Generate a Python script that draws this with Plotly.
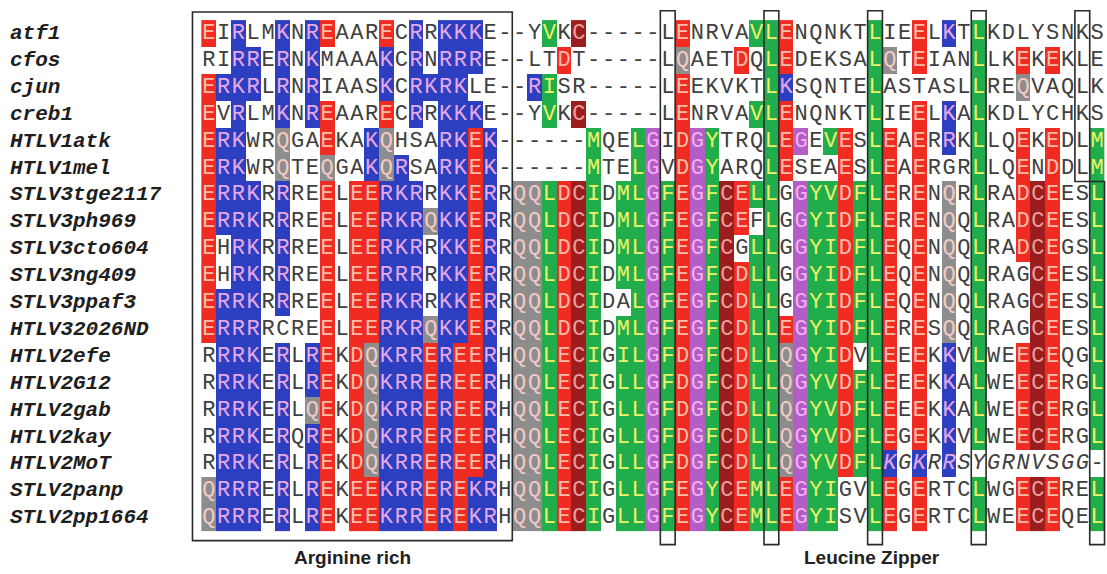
import plotly.graph_objects as go

names = ["atf1", "cfos", "cjun", "creb1", "HTLV1atk", "HTLV1mel", "STLV3tge2117",
         "STLV3ph969", "STLV3cto604", "STLV3ng409", "STLV3ppaf3", "HTLV32026ND",
         "HTLV2efe", "HTLV2G12", "HTLV2gab", "HTLV2kay", "HTLV2MoT", "STLV2panp",
         "STLV2pp1664"]

seqs = [
    "EIRLMKNREAARECRRKKKE--YVKC-----LENRVAVLENQNKTLIEELKTLKDLYSNKS",
    "RIRRERNKMAAAKCRNRRRE--LTDT-----LQAETDQLEDEKSALQTEIANLLKEKEKLE",
    "ERKRLRNRIAASKCRKRKLE--RISR-----LEEKVKTLKSQNTELASTASLLREQVAQLK",
    "EVRLMKNREAARECRRKKKE--YVKC-----LENRVAVLENQNKTLIEELKALKDLYCHKS",
    "ERKWRQGAEKAKQHSARKEK------MQELGIDGYTRQLEGEVESLEAERRKLLQEKEDLM",
    "ERKWRQTEQGAKQRSARKEK------MTELGVDGYARQLESEAESLEAERGRLLQENDDLM",
    "ERRKRRREELEERKRRKKERRQQLDCIDMLGFEGFCELLGGYVDFLERENQRLRADCEESL",
    "ERRKRRREELEERKRQKKERRQQLDCIDMLGFEGFCEFLGGYIDFLERENQQLRADCEESL",
    "EHRKRRREELEERKRRKKERRQQLDCIDMLGFEGFCGLLGGYIDFLEQENQQLRADCEGSL",
    "EHRKRRREELEERRRRKKERRQQLDCIDMLGFEGFCDLLGGYIDFLEQENQQLRAGCEESL",
    "ERRKRRREELEERKRRKKERRQQLDCIDALGFEGFCDLLGGYIDFLEQENQQLRAGCEESL",
    "ERRRRCREELEERKRQKKERRQQLDCIDMLGFEGFCDLLEGYIDFLERESQQLRAGCEESL",
    "RRRKERLREKDQKRREREERHQQLECIGILGFDGFCDLLQGYIDVLEEEKKVLWEECEQGL",
    "RRRKERLREKDQKRREREERHQQLECIGLLGFDGFCDLLQGYVDFLEEEKKALWEECERGL",
    "RRRKERLQEKDQKRREREERHQQLECIGLLGFDGFCDLLQGYVDFLEEEKKALWEECERGL",
    "RRRKERQREKDQKRREREERHQQLECIGLLGFDGFCDLLQGYVDFLEGEKKVLWEECERGL",
    "RRRKERLREKDQKRREREERHQQLECIGLLGFDGFCDLLQGYVDFLKGKRRSYGRNVSGG-",
    "QRRRERLREKEEKRREREKRHQQLECIGLLGFEGYCEMLEGYIGVLEGERTCLWGECEREL",
    "QRRRERLREKEEKRREREKRHQQLECIGLLGFEGYCEMLEGYISVLEGERTCLWEECEQEL",
]

# columns (0-based) whose residue is shaded, per sequence
hl_stlv3 = [21, 22, 23, 24, 25, 26, 28, 29, 30, 31, 32, 33, 34, 35]
hl_htlv2 = [1, 2, 3, 5, 7, 8, 10, 11, 12, 13, 14, 15, 16, 17, 18, 19, 21, 22, 23, 24, 25, 26,
            28, 29, 30, 31, 32, 33, 34, 35, 36, 37, 38, 39, 40, 41, 42, 43, 44, 45, 46, 48, 50,
            52, 55, 56, 57, 60]
highlight = [
    [0, 2, 5, 7, 8, 12, 14, 16, 17, 18, 23, 25, 32, 37, 38, 39, 45, 48, 50, 52],
    [2, 3, 5, 7, 12, 14, 16, 17, 18, 24, 32, 36, 38, 39, 45, 46, 48, 52, 55, 57],
    [0, 1, 2, 3, 5, 7, 12, 14, 15, 16, 17, 22, 23, 32, 38, 39, 45, 52, 55],
    [0, 2, 5, 7, 8, 12, 14, 16, 17, 18, 23, 25, 32, 37, 38, 39, 45, 48, 50, 52],
    [0, 1, 2, 5, 8, 11, 12, 16, 17, 18, 19, 26, 29, 30, 32, 33, 34, 38, 39, 40, 42, 43, 45,
     46, 48, 50, 52, 55, 57, 60],
    [0, 1, 2, 5, 8, 11, 12, 13, 16, 17, 18, 19, 26, 29, 30, 32, 33, 34, 38, 39, 43, 45, 46,
     48, 52, 55, 57, 60],
    [0, 1, 2, 3, 5, 8, 10, 11, 12, 13, 14, 16, 17, 18, 19] + hl_stlv3 +
    [36, 37, 38, 40, 41, 42, 43, 44, 45, 46, 48, 50, 52, 55, 56, 57, 60],
    [0, 1, 2, 3, 5, 8, 10, 11, 12, 13, 14, 15, 16, 17, 18, 19] + hl_stlv3 +
    [36, 38, 40, 41, 42, 43, 44, 45, 46, 48, 50, 52, 55, 56, 57, 60],
    [0, 2, 3, 5, 8, 10, 11, 12, 13, 14, 16, 17, 18, 19] + hl_stlv3 +
    [37, 38, 40, 41, 42, 43, 44, 45, 46, 48, 50, 52, 55, 56, 57, 60],
    [0, 2, 3, 5, 8, 10, 11, 12, 13, 14, 16, 17, 18, 19] + hl_stlv3 +
    [36, 37, 38, 40, 41, 42, 43, 44, 45, 46, 48, 50, 52, 56, 57, 60],
    [0, 1, 2, 3, 5, 8, 10, 11, 12, 13, 14, 16, 17, 18, 19, 21, 22, 23, 24, 25, 26, 29, 30,
     31, 32, 33, 34, 35, 36, 37, 38, 40, 41, 42, 43, 44, 45, 46, 48, 50, 52, 56, 57, 60],
    [0, 1, 2, 3, 8, 10, 11, 12, 13, 14, 15, 16, 17, 18, 19] + hl_stlv3 +
    [36, 37, 38, 39, 40, 41, 42, 43, 44, 45, 46, 48, 50, 52, 56, 57, 60],
    [c for c in hl_htlv2 if c != 44],
    hl_htlv2,
    hl_htlv2,
    hl_htlv2,
    [c for c in hl_htlv2 if c <= 50],
    [0, 1, 2, 3, 5, 7, 8, 10, 11, 12, 13, 14, 15, 16, 17, 18, 19, 21, 22, 23, 24, 25, 26,
     28, 29, 30, 31, 32, 33, 34, 35, 36, 37, 38, 39, 40, 41, 42, 45, 46, 48, 52, 55, 56, 57, 60],
    [0, 1, 2, 3, 5, 7, 8, 10, 11, 12, 13, 14, 15, 16, 17, 18, 19, 21, 22, 23, 24, 25, 26,
     28, 29, 30, 31, 32, 33, 34, 35, 36, 37, 38, 39, 40, 41, 42, 45, 46, 48, 52, 55, 56, 57, 60],
]
italic_row = 16
italic_from = 46

zipper_cols = [31, 38, 45, 52]
region_labels = ["Arginine rich", "Leucine Zipper"]

# residue class -> shading
group_of = {}
for ch in "KR":
    group_of[ch] = 1
for ch in "ED":
    group_of[ch] = 2
for ch in "LIVMFYAW":
    group_of[ch] = 3
group_of["Q"] = 4
group_of["G"] = 5
group_of["C"] = 6

fills = ["#ffffff", "#2c3fc0", "#ef2b22", "#21ad4b", "#8d8d8d", "#b25ec6", "#9c1d1d"]
txtcols = ["#404040", "#e6a8e6", "#fbbcaa", "#eef26a", "#f3cbc4", "#f4b0f0", "#eaa0a0"]

nrow = len(seqs)
ncol = len(seqs[0])
for s in seqs:
    assert len(s) == ncol, s

z = []
for r in range(nrow):
    row = []
    hs = set(highlight[r])
    for c in range(ncol):
        ch = seqs[r][c]
        row.append(group_of.get(ch, 0) if c in hs else 0)
    z.append(row)

cs = []
for k, col in enumerate(fills):
    cs.append([k / len(fills), col])
    cs.append([(k + 1) / len(fills), col])

fig = go.Figure()
fig.add_trace(go.Heatmap(
    z=z, x=list(range(ncol)), y=list(range(nrow)),
    colorscale=cs, zmin=-0.5, zmax=len(fills) - 0.5,
    showscale=False, hoverinfo="skip"))

xs, ys, ts, tc = [], [], [], []
xi, yi, ti, tci = [], [], [], []
for r in range(nrow):
    for c in range(ncol):
        ch = seqs[r][c]
        col = txtcols[z[r][c]]
        if r == italic_row and c >= italic_from:
            xi.append(c); yi.append(r); ti.append(ch); tci.append(col)
        else:
            xs.append(c); ys.append(r); ts.append(ch); tc.append(col)

seq_font = "Liberation Mono, Courier New, monospace"
fig.add_trace(go.Scatter(
    x=xs, y=ys, text=ts, mode="text", textposition="middle center",
    textfont=dict(family=seq_font, size=22, color=tc),
    hoverinfo="skip", showlegend=False))
fig.add_trace(go.Scatter(
    x=xi, y=yi, text=ti, mode="text", textposition="middle center",
    textfont=dict(family=seq_font, size=22, color=tci, style="italic"),
    hoverinfo="skip", showlegend=False))

line = dict(color="#2a2a2a", width=1.6)
shapes = [dict(type="rect", xref="x", yref="y", x0=-1.1, x1=20.5, y0=-0.8, y1=18.85,
               line=line, fillcolor="rgba(0,0,0,0)")]
for c in zipper_cols:
    shapes.append(dict(type="rect", xref="x", yref="y", x0=c - 0.5, x1=c + 0.5,
                       y0=-0.85, y1=19.0, line=line, fillcolor="rgba(0,0,0,0)"))
shapes.append(dict(type="rect", xref="x", yref="y", x0=58.5, x1=59.5, y0=-0.85, y1=5.5,
                   line=line, fillcolor="rgba(0,0,0,0)"))
shapes.append(dict(type="rect", xref="x", yref="y", x0=59.5, x1=60.5, y0=5.5, y1=19.0,
                   line=line, fillcolor="rgba(0,0,0,0)"))

annotations = []
for r, nm in enumerate(names):
    annotations.append(dict(
        text=nm, xref="paper", x=-0.2, xanchor="left", yref="y", y=r, yanchor="middle",
        showarrow=False,
        font=dict(family=seq_font, size=21, color="#1e1e1e", weight="bold", style="italic")))
for lbl, xc in zip(region_labels, [9.7, 44.8]):
    annotations.append(dict(text=lbl, xref="x", x=xc, yref="paper", y=-0.021,
                            yanchor="middle", showarrow=False,
                            font=dict(family="Liberation Sans, Arial, sans-serif", size=19,
                                      color="#222222", weight="bold")))

fig.update_layout(
    width=1107, height=574,
    margin=dict(l=191, r=1, t=8, b=28),
    paper_bgcolor="white", plot_bgcolor="white",
    xaxis=dict(range=[-1.2, 60.6], visible=False, fixedrange=True),
    yaxis=dict(range=[19.05, -0.95], visible=False, fixedrange=True),
    shapes=shapes, annotations=annotations, showlegend=False)

# remove the default page margin so the figure fills the 1107x574 window exactly
fig.write_html("out.html",
               config={"displayModeBar": False},
               post_script="document.body.style.margin='0';"
                           "document.body.style.overflow='hidden';")
